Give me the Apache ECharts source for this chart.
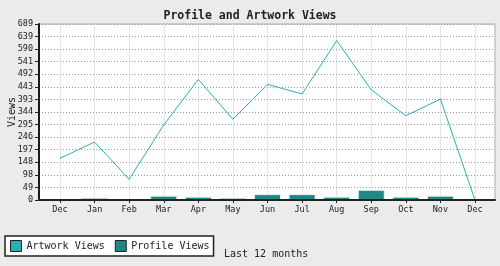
<!DOCTYPE html>
<html>
<head>
<meta charset="utf-8">
<script src="https://cdn.jsdelivr.net/npm/echarts@6/dist/echarts.min.js"></script>
<style>html,body{margin:0;padding:0;background:#ebebeb;}#c{width:500px;height:266px;}</style>
</head>
<body>
<div id="c"></div>
<script>
var months = ['Dec','Jan','Feb','Mar','Apr','May','Jun','Jul','Aug','Sep','Oct','Nov','Dec'];
var artworkViews = [163, 227, 81, 294, 472, 316, 453, 415, 624, 431, 330, 395, 0];
var profileViews = [0, 9, 0, 17, 13, 9, 23, 23, 13, 40, 13, 17, 0];
var yTicks = [0, 49, 98, 148, 197, 246, 295, 344, 393, 443, 492, 541, 590, 639, 689];
var yMax = 689;
var yStep = yMax / (yTicks.length - 1);
var FONT = 'DejaVu Sans Mono';

var chart = echarts.init(document.getElementById('c'), null, {renderer: 'canvas'});
chart.setOption({
  backgroundColor: '#ebebeb',
  animation: false,
  textStyle: {fontFamily: FONT},
  title: [
    {text: 'Profile and Artwork Views', left: 'center', top: 5,
     textStyle: {fontFamily: FONT, fontSize: 11.5, fontWeight: 'bold', color: '#222'}},
    {text: 'Last 12 months', left: 219, top: 244,
     textStyle: {fontFamily: FONT, fontSize: 10, fontWeight: 'normal', color: '#222'}}
  ],
  legend: {
    left: 5, top: 236,
    data: [{name: 'Artwork Views', icon: 'rect'}, {name: 'Profile Views', icon: 'rect'}],
    backgroundColor: '#fff', borderColor: '#222', borderWidth: 1.5,
    padding: [4, 4, 4, 5],
    itemWidth: 11, itemHeight: 11, itemGap: 10,
    itemStyle: {borderColor: '#222', borderWidth: 1},
    textStyle: {fontFamily: FONT, fontSize: 10, color: '#222'}
  },
  grid: [
    {left: 39, right: 5, top: 24, bottom: 66, show: true, backgroundColor: '#fff', borderColor: '#aaa', borderWidth: 1, outerBoundsMode: 'none', containLabel: false},
    {left: 60, right: 25, top: 24, bottom: 66, outerBoundsMode: 'none', containLabel: false}
  ],
  xAxis: [
    {gridIndex: 0, type: 'value', min: 0, max: 1, z: 10,
     axisLine: {show: true, onZero: false, lineStyle: {color: '#222', width: 2}},
     axisTick: {show: false}, axisLabel: {show: false}, splitLine: {show: false}},
    {gridIndex: 1, type: 'category', data: months, boundaryGap: false,
     axisLine: {show: false},
     axisTick: {show: true, length: 3, lineStyle: {color: '#222'}},
     axisLabel: {fontFamily: FONT, fontSize: 8.5, color: '#222', margin: 5, interval: 0},
     splitLine: {show: true, lineStyle: {color: '#e6e6e6', width: 1}}}
  ],
  yAxis: [
    {gridIndex: 0, type: 'value', min: 0, max: yMax, interval: yStep, z: 10,
     name: 'Views', nameLocation: 'middle', nameGap: 22, nameRotate: 90, nameMoveOverlap: false,
     nameTextStyle: {fontFamily: FONT, fontSize: 10, color: '#222'},
     axisLine: {show: true, onZero: false, lineStyle: {color: '#1a1a1a', width: 2}},
     axisTick: {show: true, length: 4, lineStyle: {color: '#222'}},
     axisLabel: {fontFamily: FONT, fontSize: 8.5, color: '#222', margin: 6,
       formatter: function (v) { return String(yTicks[Math.round(v / yStep)]); }},
     splitLine: {show: true, lineStyle: {color: '#999', type: [1, 2], width: 1}}},
    {gridIndex: 1, type: 'value', min: 0, max: yMax, show: false, splitLine: {show: false}}
  ],
  series: [
    {name: 'Artwork Views', type: 'line', xAxisIndex: 1, yAxisIndex: 1, data: artworkViews,
     showSymbol: false, symbol: 'none', color: '#2ab0ae',
     lineStyle: {color: '#2ab0ae', width: 1}, z: 5},
    {name: 'Profile Views', type: 'bar', xAxisIndex: 1, yAxisIndex: 1, data: profileViews,
     barWidth: 27, color: '#1e8886',
     itemStyle: {color: '#1e8886', borderColor: '#e4f0f0', borderWidth: 1}, z: 4}
  ]
});
</script>
</body>
</html>
